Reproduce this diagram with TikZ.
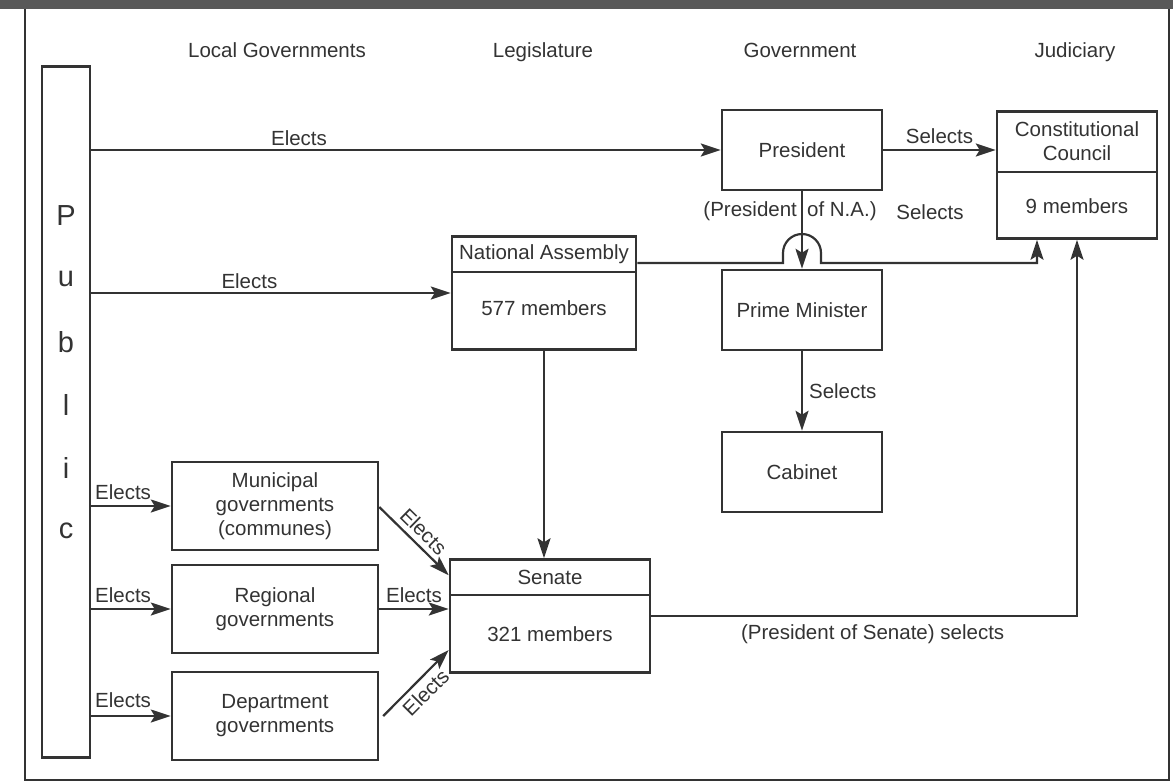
\documentclass[tikz,border=0pt]{standalone}
\usepackage{fontspec}
\setmainfont{Liberation Sans}
\usetikzlibrary{arrows.meta}

\begin{document}
\begin{tikzpicture}[x=1pt, y=-1pt, line width=2.2pt, draw=black!80,
    every node/.style={font=\fontsize{20.5}{24}\selectfont, text=black!80, align=center},
    box/.style={draw, line width=2.5pt, rectangle, inner sep=0pt},
    arr/.style={-{Stealth[length=20pt, width=13pt, inset=4pt]}}]
      \useasboundingbox (0,0) rectangle (1173,782);
      % frame of the page
      \fill[black!65] (0,0) rectangle (1173,9);
      \draw[line width=2pt] (25,9) -- (25,780) -- (1169,780) -- (1169,9);

      % column heads
      \node[anchor=base] (hlocal) at (277,57) {Local Governments};
      \node[anchor=base] (hleg) at (543,57) {Legislature};
      \node[anchor=base] (hgov) at (800,57) {Government};
      \node[anchor=base] (hjud) at (1075,57) {Judiciary};

      % public
      \node[box, minimum width=48pt, minimum height=691pt] (pub) at (66,412) {};
      \foreach \l [count=\i] in {P,u,b,l,i,c}
        \node[font=\fontsize{29}{30}\selectfont] (pub\i) at (66,153+63*\i) {\l};

      % boxes
      \node[box, minimum width=160pt, minimum height=80pt] (pres) at (802,150) {President};
      \node[box, minimum width=160pt, minimum height=127pt] (cc) at (1077,175) {};
      \node (cchead) at (1077,141) {Constitutional\\Council};
      \node (ccbody) at (1077,206) {9 members};
      \draw[line width=2.5pt] (cc.west |- 0,172) -- (cc.east |- 0,172);

      \node[box, minimum width=184pt, minimum height=113pt] (na) at (544,293) {};
      \node (nahead) at (544,254) {National Assembly};
      \node (nabody) at (544,308) {577 members};
      \draw[line width=2.5pt] (na.west |- 0,272) -- (na.east |- 0,272);

      \node[box, minimum width=160pt, minimum height=80pt] (pm) at (802,310) {Prime Minister};
      \node[box, minimum width=160pt, minimum height=80pt] (cab) at (802,472) {Cabinet};

      \node[box, minimum width=200pt, minimum height=113pt] (sen) at (550,616) {};
      \node (senhead) at (550,577) {Senate};
      \node (senbody) at (550,634) {321 members};
      \draw[line width=2.5pt] (sen.west |- 0,595) -- (sen.east |- 0,595);

      \node[box, minimum width=206pt, minimum height=88pt] (mun) at (275,506) {Municipal\\governments\\(communes)};
      \node[box, minimum width=206pt, minimum height=88pt] (reg) at (275,609) {Regional\\governments};
      \node[box, minimum width=206pt, minimum height=88pt] (dep) at (275,716) {Department\\governments};

      % connectors
      \draw[arr] (pub.east |- pres) -- node[pos=0.33, above] {Elects} (pres);
      \draw[arr] (pub.east |- na) -- node[pos=0.44, above] {Elects} (na);
      \draw[arr] (pub.east |- mun) -- node[pos=0.4, above, inner sep=5pt] {Elects} (mun);
      \draw[arr] (pub.east |- reg) -- node[pos=0.4, above, inner sep=5pt] {Elects} (reg);
      \draw[arr] (pub.east |- dep) -- node[pos=0.4, above, inner sep=7pt] {Elects} (dep);

      \draw[arr] (pres) -- node[above, inner sep=5pt] {Selects} (cc.west |- pres);
      \draw[arr] (pres) -- node[pos=0.26, left, inner sep=4pt] {(President}
        node[pos=0.26, right, inner sep=4pt] {of N.A.)} (pm);
      \node (nasel) at (930,212) {Selects};
      \draw[arr] ([yshift=30pt]na.east) -- (783,263) -- (783,253)
        arc[start angle=180, end angle=0, radius=19pt] -- (821,263)
        -| ([xshift=-40pt]cc.south);
      \draw[arr] (pm) -- node[right, inner sep=6pt] {Selects} (cab);

      \draw[arr] (na) -- (na |- sen.north);
      \draw[arr] (mun.east |- 0,507) -- node[sloped, above, inner sep=5pt] {Elects} ([yshift=-17pt]sen.north west);
      \draw[arr] (reg) -- node[above, inner sep=5pt] {Elects} (reg -| sen.west);
      \draw[arr] ([xshift=4pt]dep.east) -- node[sloped, below, inner sep=5pt] {Elects} ([yshift=-34pt]sen.west);
      \draw[arr] (sen) -| node[pos=0.26, below, inner sep=8pt] {(President of Senate) selects} (cc.south);
    \end{tikzpicture}
\end{document}
